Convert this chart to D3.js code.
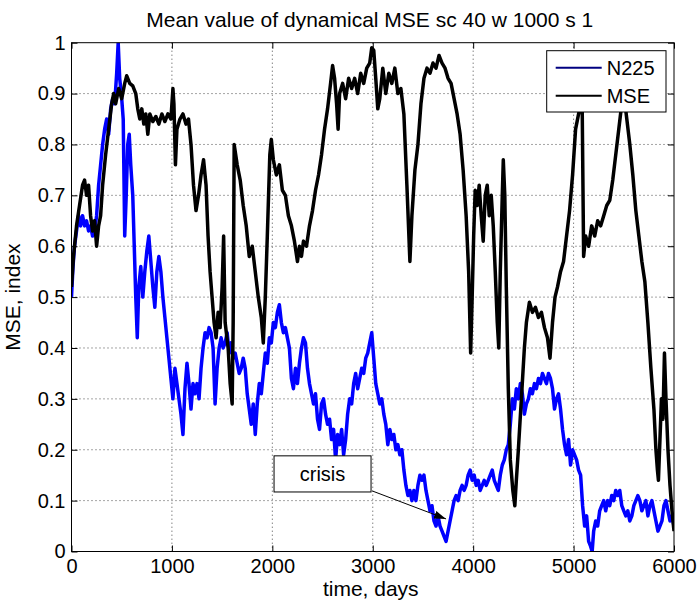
<!DOCTYPE html>
<html>
<head>
<meta charset="utf-8">
<script src="https://cdn.jsdelivr.net/npm/d3@7"></script>
<style>
  body { margin: 0; background: #fff; }
  text { font-family: "Liberation Sans", Arial, sans-serif; fill: #000; }
</style>
</head>
<body>
<svg id="chart" width="698" height="604"></svg>
<script>
// Chart values: [day, value]
const n225 = [
  [0,0.50],[15,0.56],[30,0.60],[50,0.63],[70,0.66],[90,0.64],[110,0.66],[130,0.64],[150,0.65],[170,0.63],
  [190,0.64],[210,0.62],[230,0.63],[250,0.66],[270,0.72],[290,0.76],[310,0.80],[330,0.83],[350,0.85],[370,0.82],
  [390,0.87],[410,0.89],[430,0.88],[450,0.94],[465,1.00],[480,0.93],[500,0.89],[515,0.85],[530,0.62],[545,0.70],
  [560,0.80],[575,0.82],[590,0.76],[610,0.70],[625,0.60],[640,0.50],[655,0.42],[670,0.52],[690,0.56],[710,0.50],
  [730,0.55],[750,0.59],[770,0.62],[790,0.57],[810,0.52],[830,0.48],[850,0.55],[870,0.58],[890,0.55],[910,0.50],
  [930,0.46],[950,0.42],[970,0.38],[990,0.34],[1010,0.30],[1030,0.36],[1050,0.33],[1070,0.30],[1090,0.27],[1110,0.23],
  [1130,0.32],[1150,0.37],[1170,0.33],[1190,0.28],[1210,0.33],[1230,0.31],[1250,0.33],[1270,0.30],[1290,0.36],[1310,0.40],
  [1330,0.43],[1350,0.42],[1370,0.44],[1390,0.43],[1410,0.40],[1430,0.29],[1450,0.36],[1470,0.40],[1490,0.42],[1510,0.40],
  [1530,0.41],[1550,0.43],[1570,0.39],[1590,0.41],[1610,0.38],[1630,0.39],[1650,0.37],[1670,0.35],[1690,0.36],[1710,0.38],
  [1730,0.36],[1750,0.31],[1770,0.28],[1790,0.25],[1810,0.29],[1830,0.23],[1850,0.29],[1870,0.33],[1890,0.31],[1910,0.35],
  [1930,0.39],[1950,0.37],[1970,0.42],[1990,0.41],[2010,0.45],[2030,0.44],[2050,0.47],[2070,0.485],[2090,0.45],[2110,0.43],
  [2130,0.44],[2150,0.42],[2170,0.40],[2190,0.34],[2210,0.32],[2230,0.36],[2250,0.33],[2270,0.37],[2290,0.40],[2310,0.42],
  [2330,0.41],[2350,0.36],[2370,0.33],[2390,0.31],[2410,0.29],[2430,0.31],[2450,0.26],[2470,0.24],[2490,0.29],[2510,0.30],
  [2530,0.27],[2550,0.25],[2570,0.26],[2590,0.22],[2610,0.24],[2630,0.18],[2650,0.23],[2670,0.21],[2690,0.24],[2710,0.19],
  [2730,0.22],[2750,0.27],[2770,0.30],[2790,0.29],[2810,0.33],[2830,0.35],[2850,0.32],[2870,0.34],[2890,0.36],[2910,0.35],
  [2930,0.38],[2950,0.39],[2970,0.41],[2990,0.43],[3010,0.38],[3030,0.33],[3050,0.31],[3070,0.29],[3090,0.30],[3110,0.27],
  [3130,0.25],[3150,0.21],[3170,0.24],[3190,0.22],[3210,0.23],[3230,0.20],[3250,0.21],[3270,0.19],[3290,0.20],[3310,0.16],
  [3330,0.13],[3350,0.11],[3370,0.12],[3390,0.10],[3410,0.12],[3430,0.10],[3450,0.13],[3470,0.15],[3490,0.14],[3510,0.15],
  [3530,0.12],[3550,0.10],[3570,0.08],[3590,0.09],[3610,0.06],[3630,0.05],[3650,0.07],[3670,0.05],[3690,0.04],[3710,0.03],
  [3730,0.02],[3750,0.04],[3770,0.06],[3790,0.08],[3810,0.10],[3830,0.11],[3850,0.10],[3870,0.12],[3890,0.13],[3910,0.12],
  [3930,0.13],[3950,0.15],[3970,0.16],[3990,0.14],[4010,0.15],[4030,0.13],[4050,0.14],[4070,0.12],[4090,0.13],[4110,0.14],
  [4130,0.13],[4150,0.14],[4170,0.15],[4190,0.16],[4210,0.14],[4230,0.13],[4250,0.12],[4270,0.15],[4290,0.17],[4310,0.18],
  [4330,0.20],[4350,0.21],[4370,0.25],[4390,0.30],[4410,0.28],[4430,0.32],[4450,0.30],[4470,0.33],[4490,0.31],[4510,0.27],
  [4530,0.29],[4550,0.30],[4570,0.32],[4590,0.31],[4610,0.33],[4630,0.32],[4650,0.34],[4670,0.33],[4690,0.35],[4710,0.34],
  [4730,0.33],[4750,0.35],[4770,0.34],[4790,0.32],[4810,0.28],[4830,0.30],[4850,0.31],[4870,0.28],[4890,0.24],[4910,0.21],
  [4930,0.19],[4950,0.22],[4970,0.17],[4990,0.20],[5010,0.19],[5030,0.18],[5050,0.16],[5070,0.15],[5090,0.09],[5110,0.05],
  [5130,0.07],[5150,0.02],[5170,0.01],[5185,0.00],[5200,0.04],[5220,0.06],[5240,0.05],[5260,0.08],[5280,0.09],[5300,0.10],
  [5320,0.08],[5340,0.10],[5360,0.09],[5380,0.11],[5400,0.10],[5420,0.12],[5440,0.11],[5460,0.12],[5480,0.09],[5500,0.08],
  [5520,0.07],[5540,0.08],[5560,0.06],[5580,0.07],[5600,0.09],[5620,0.10],[5640,0.11],[5660,0.10],[5680,0.08],[5700,0.09],
  [5720,0.10],[5740,0.07],[5760,0.09],[5780,0.10],[5800,0.08],[5820,0.06],[5840,0.04],[5860,0.05],[5880,0.06],[5900,0.09],
  [5920,0.10],[5940,0.08],[5960,0.06],[5980,0.07],[6000,0.05]
];

const mse = [
  [0,0.52],[20,0.58],[50,0.64],[80,0.68],[110,0.72],[130,0.73],[150,0.70],[170,0.72],[190,0.66],[210,0.63],
  [230,0.65],[250,0.60],[270,0.64],[290,0.66],[310,0.72],[340,0.78],[370,0.83],[400,0.88],[420,0.90],[440,0.88],
  [470,0.91],[500,0.89],[530,0.92],[550,0.935],[580,0.92],[610,0.915],[640,0.90],[660,0.87],[680,0.85],[700,0.87],
  [720,0.84],[740,0.86],[760,0.82],[780,0.86],[810,0.845],[840,0.855],[870,0.84],[900,0.86],[930,0.845],[960,0.86],
  [990,0.85],[1010,0.91],[1020,0.88],[1035,0.76],[1050,0.83],[1080,0.85],[1110,0.86],[1140,0.84],[1165,0.85],[1190,0.80],
  [1215,0.72],[1240,0.67],[1265,0.70],[1290,0.74],[1315,0.77],[1340,0.72],[1360,0.62],[1380,0.55],[1400,0.50],[1420,0.45],
  [1440,0.42],[1460,0.47],[1480,0.44],[1500,0.52],[1515,0.62],[1530,0.45],[1560,0.40],[1580,0.33],[1600,0.29],[1610,0.45],
  [1620,0.80],[1650,0.76],[1680,0.73],[1710,0.68],[1740,0.64],[1770,0.58],[1800,0.60],[1830,0.55],[1860,0.50],[1890,0.46],
  [1910,0.41],[1930,0.50],[1950,0.62],[1975,0.78],[1990,0.81],[2010,0.77],[2040,0.74],[2070,0.76],[2100,0.71],[2130,0.70],
  [2160,0.66],[2190,0.64],[2220,0.61],[2250,0.57],[2270,0.60],[2290,0.58],[2310,0.61],[2340,0.60],[2370,0.64],[2400,0.67],
  [2430,0.71],[2460,0.74],[2490,0.78],[2520,0.83],[2550,0.87],[2580,0.92],[2600,0.955],[2620,0.93],[2640,0.88],[2655,0.83],
  [2670,0.90],[2700,0.92],[2730,0.89],[2760,0.93],[2790,0.91],[2820,0.93],[2850,0.90],[2880,0.94],[2910,0.92],[2940,0.95],
  [2970,0.96],[2990,0.99],[3010,0.985],[3030,0.93],[3050,0.87],[3070,0.89],[3100,0.95],[3130,0.90],[3160,0.94],[3190,0.92],
  [3220,0.95],[3250,0.90],[3280,0.91],[3310,0.86],[3340,0.72],[3370,0.57],[3390,0.66],[3420,0.75],[3450,0.80],[3480,0.88],
  [3510,0.93],[3540,0.95],[3570,0.94],[3600,0.96],[3630,0.95],[3660,0.975],[3690,0.96],[3720,0.95],[3750,0.93],[3780,0.92],
  [3810,0.89],[3840,0.86],[3870,0.82],[3900,0.75],[3930,0.66],[3955,0.55],[3975,0.39],[3990,0.50],[4005,0.62],[4020,0.71],
  [4040,0.68],[4060,0.72],[4080,0.66],[4100,0.61],[4120,0.70],[4140,0.72],[4160,0.66],[4180,0.70],[4200,0.64],[4220,0.55],
  [4240,0.45],[4255,0.40],[4270,0.55],[4290,0.70],[4300,0.77],[4315,0.70],[4330,0.52],[4350,0.32],[4370,0.18],[4395,0.12],
  [4415,0.09],[4430,0.14],[4450,0.20],[4480,0.30],[4510,0.40],[4530,0.45],[4560,0.49],[4590,0.47],[4620,0.48],[4650,0.46],
  [4680,0.47],[4710,0.44],[4740,0.42],[4765,0.38],[4790,0.45],[4815,0.50],[4840,0.52],[4870,0.55],[4900,0.57],[4930,0.62],
  [4960,0.67],[4990,0.74],[5020,0.83],[5050,0.86],[5085,0.89],[5100,0.58],[5120,0.62],[5150,0.60],[5180,0.64],[5210,0.62],
  [5240,0.65],[5270,0.64],[5300,0.66],[5330,0.68],[5360,0.69],[5390,0.73],[5420,0.78],[5450,0.83],[5480,0.88],[5500,0.90],
  [5530,0.85],[5560,0.80],[5590,0.74],[5620,0.67],[5650,0.62],[5680,0.57],[5710,0.53],[5740,0.45],[5770,0.36],[5800,0.28],
  [5820,0.20],[5835,0.16],[5845,0.14],[5860,0.22],[5875,0.30],[5890,0.26],[5905,0.39],[5920,0.30],[5940,0.20],[5960,0.13],
  [5980,0.08],[6000,0.04]
];

const xTicks = [0, 1000, 2000, 3000, 4000, 5000, 6000];
const yTicks = [0, 0.1, 0.2, 0.3, 0.4, 0.5, 0.6, 0.7, 0.8, 0.9, 1];
const seriesNames = ["N225", "MSE"];
const seriesColors = ["#0000ff", "#000000"];

// crisis note: box corners and arrow ends in data units
const crisisBox = { x0: 2017, x1: 2983, y0: 0.117, y1: 0.188 };
const crisisArrow = { from: [2995, 0.119], to: [3730, 0.064] };

const svg = d3.select("#chart");
const margin = { top: 42.7, right: 24, bottom: 52.5, left: 71.5 };
const width = 698 - margin.left - margin.right;
const height = 604 - margin.top - margin.bottom;

const x = d3.scaleLinear().domain([0, 6000]).range([0, width]);
const y = d3.scaleLinear().domain([0, 1]).range([height, 0]);

const g = svg.append("g").attr("transform", `translate(${margin.left},${margin.top})`);

svg.append("defs").append("clipPath").attr("id", "clip")
  .append("rect").attr("width", width).attr("height", height);

// Dotted grid
const grid = g.append("g").attr("stroke", "#000").attr("stroke-width", 1)
  .attr("stroke-dasharray", "1,3").attr("opacity", 0.7);
grid.selectAll("line.gx").data(xTicks.slice(1, -1)).join("line")
  .attr("x1", d => x(d)).attr("x2", d => x(d)).attr("y1", 0).attr("y2", height);
grid.selectAll("line.gy").data(yTicks.slice(1, -1)).join("line")
  .attr("y1", d => y(d)).attr("y2", d => y(d)).attr("x1", 0).attr("x2", width);

// Series lines
const line = d3.line().x(d => x(d[0])).y(d => y(d[1]));
const plot = g.append("g").attr("clip-path", "url(#clip)");
[n225, mse].forEach((s, i) => {
  plot.append("path").datum(s)
    .attr("fill", "none")
    .attr("stroke", seriesColors[i])
    .attr("stroke-width", 3.5)
    .attr("stroke-linejoin", "round")
    .attr("d", line);
});

// Axes with inward ticks, MATLAB style
const fontSize = 20;
g.append("g").attr("transform", `translate(0,${height})`)
  .call(d3.axisBottom(x).tickValues(xTicks).tickFormat(d3.format("d"))
    .tickSizeInner(-6).tickSizeOuter(0).tickPadding(7));
g.append("g")
  .call(d3.axisLeft(y).tickValues(yTicks).tickFormat(d3.format("~g"))
    .tickSizeInner(-6).tickSizeOuter(0).tickPadding(6));
g.append("g").call(d3.axisTop(x).tickValues(xTicks).tickSizeInner(-6).tickSizeOuter(0).tickFormat(""));
g.append("g").attr("transform", `translate(${width},0)`)
  .call(d3.axisRight(y).tickValues(yTicks).tickSizeInner(-6).tickSizeOuter(0).tickFormat(""));
g.selectAll(".domain").remove();
g.selectAll(".tick line").attr("stroke", "#000");
g.selectAll(".tick text").attr("font-size", fontSize).attr("font-family", "'Liberation Sans', Arial, sans-serif");

g.append("rect").attr("width", width).attr("height", height)
  .attr("fill", "none").attr("stroke", "#000").attr("stroke-width", 1);

// Crisis annotation
svg.append("defs").append("marker").attr("id", "head")
  .attr("viewBox", "0 0 12 8").attr("refX", 12).attr("refY", 4)
  .attr("markerWidth", 12).attr("markerHeight", 8).attr("markerUnits", "userSpaceOnUse")
  .attr("orient", "auto")
  .append("path").attr("d", "M0,0 L12,4 L0,8 Z").attr("fill", "#000");

g.append("line")
  .attr("x1", x(crisisArrow.from[0])).attr("y1", y(crisisArrow.from[1]))
  .attr("x2", x(crisisArrow.to[0])).attr("y2", y(crisisArrow.to[1]))
  .attr("stroke", "#000").attr("stroke-width", 1)
  .attr("marker-end", "url(#head)");

g.append("rect")
  .attr("x", x(crisisBox.x0)).attr("y", y(crisisBox.y1))
  .attr("width", x(crisisBox.x1) - x(crisisBox.x0))
  .attr("height", y(crisisBox.y0) - y(crisisBox.y1))
  .attr("fill", "#fff").attr("stroke", "#000").attr("stroke-width", 1);
g.append("text")
  .attr("x", (x(crisisBox.x0) + x(crisisBox.x1)) / 2)
  .attr("y", (y(crisisBox.y0) + y(crisisBox.y1)) / 2)
  .attr("dy", "0.35em").attr("text-anchor", "middle")
  .attr("font-size", fontSize).text("crisis");

// Legend
const legend = svg.append("g").attr("transform", "translate(546.7,50.7)");
legend.append("rect").attr("width", 119.3).attr("height", 61.3)
  .attr("fill", "#fff").attr("stroke", "#000").attr("stroke-width", 1);
seriesNames.forEach((name, i) => {
  const ly = 17 + i * 28;
  legend.append("line").attr("x1", 9).attr("x2", 55).attr("y1", ly).attr("y2", ly)
    .attr("stroke", i === 0 ? "#000080" : "#000").attr("stroke-width", 2);
  legend.append("text").attr("x", 60).attr("y", ly).attr("dy", "0.35em")
    .attr("font-size", fontSize).text(name);
});

// Titles
svg.append("text").attr("x", margin.left + width / 2 - 3).attr("y", 27)
  .attr("text-anchor", "middle").attr("font-size", 21)
  .text("Mean value of dynamical MSE sc 40 w 1000 s 1");
svg.append("text").attr("x", margin.left + width / 2 - 2).attr("y", 596)
  .attr("text-anchor", "middle").attr("font-size", 21).text("time, days");
svg.append("text").attr("transform", `translate(20,${margin.top + height / 2}) rotate(-90)`)
  .attr("text-anchor", "middle").attr("font-size", 21).text("MSE, index");
</script>
</body>
</html>
